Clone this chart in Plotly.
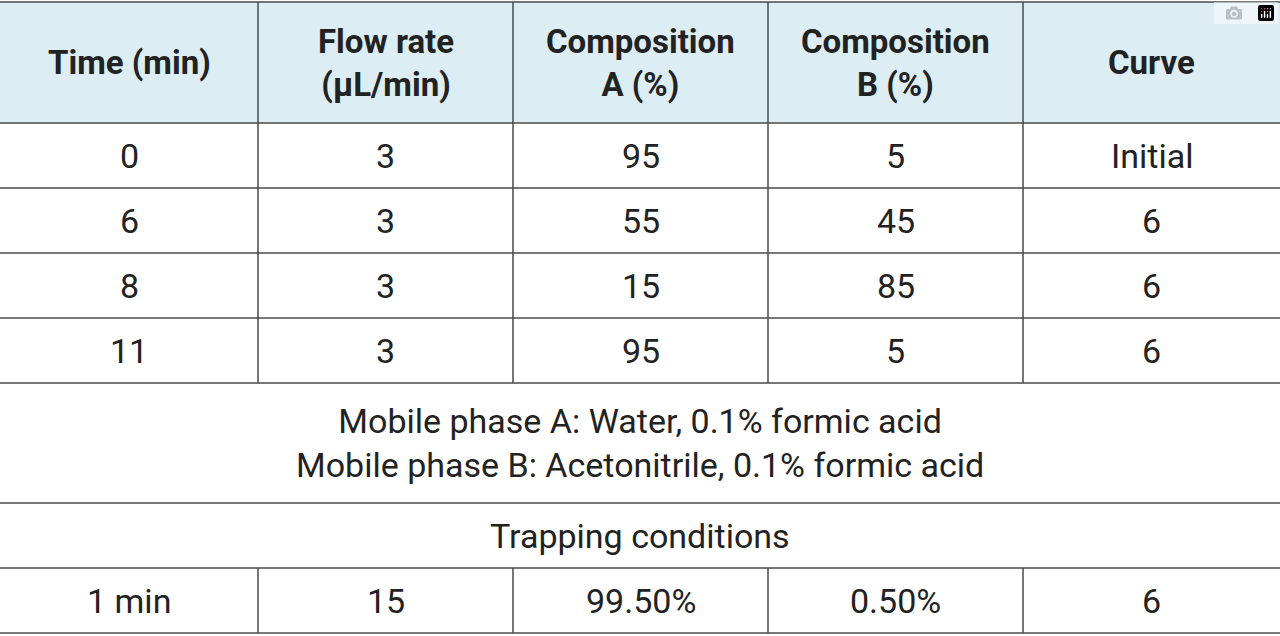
import plotly.graph_objects as go

headers = ["Time (min)", "Flow rate<br>(µL/min)", "Composition<br>A (%)", "Composition<br>B (%)", "Curve"]
rows = [["0", "3", "95", "5", "Initial"],
        ["6", "3", "55", "45", "6"],
        ["8", "3", "15", "85", "6"],
        ["11", "3", "95", "5", "6"]]
note = "Mobile phase A: Water, 0.1% formic acid<br>Mobile phase B: Acetonitrile, 0.1% formic acid"
trap_title = "Trapping conditions"
trap_row = ["1 min", "15", "99.50%", "0.50%", "6"]

col_x = [0, 258, 513, 768, 1023, 1280]
row_y = [2, 123, 188, 253, 318, 383, 503, 568, 633]
FONT = "Roboto, sans-serif"
LINE = "#4a4a4a"

fig = go.Figure()
shapes = [dict(type="rect", x0=0, x1=1280, y0=row_y[0], y1=row_y[1], fillcolor="#dcedf4", line_width=0, layer="below")]
for y in row_y:
    shapes.append(dict(type="line", x0=0, x1=1280, y0=y, y1=y, line=dict(color=LINE, width=1.5)))
segs = [(row_y[0], row_y[5]), (row_y[7], row_y[8])]
for x in col_x[1:-1]:
    for a, b in segs:
        shapes.append(dict(type="line", x0=x, x1=x, y0=a, y1=b, line=dict(color=LINE, width=1.5)))

ann = []
def cx(i): return (col_x[i] + col_x[i + 1]) / 2
def cy(j): return (row_y[j] + row_y[j + 1]) / 2
for i, h in enumerate(headers):
    ann.append(dict(x=cx(i), y=cy(0), text="<b>" + h + "</b>", font=dict(size=33, color="#222")))
for j, r in enumerate(rows):
    for i, v in enumerate(r):
        ann.append(dict(x=cx(i), y=cy(j + 1), text=v, font=dict(size=34, color="#222")))
ann.append(dict(x=640, y=cy(5), text=note, font=dict(size=34, color="#222")))
ann.append(dict(x=640, y=cy(6), text=trap_title, font=dict(size=34, color="#222")))
for i, v in enumerate(trap_row):
    ann.append(dict(x=cx(i), y=cy(7), text=v, font=dict(size=34, color="#222")))
for a in ann:
    a.update(xref="x", yref="y", showarrow=False, font_family=FONT)

fig.update_layout(width=1280, height=636, margin=dict(l=0, r=0, t=0, b=0),
                  paper_bgcolor="white", plot_bgcolor="white",
                  shapes=shapes, annotations=ann, showlegend=False,
                  xaxis=dict(range=[0, 1280], visible=False, fixedrange=True),
                  yaxis=dict(range=[636, 0], visible=False, fixedrange=True))
fig.write_html("out.html", post_script="document.body.style.margin='0';document.body.style.overflow='hidden';")
